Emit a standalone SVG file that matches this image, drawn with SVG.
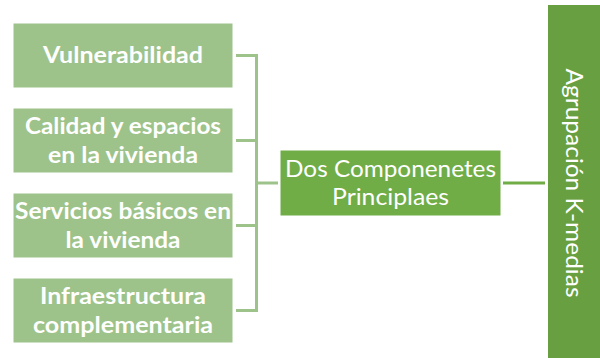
<svg xmlns="http://www.w3.org/2000/svg" width="600" height="358" viewBox="0 0 600 358">
<style>
.lb{fill:#9dc38a;stroke:#ffffff;stroke-width:1}
.lt{font-family:Lato,"Open Sans","Liberation Sans",sans-serif;font-weight:bold;font-size:23.5px;fill:#ffffff;text-anchor:middle}
.ct{font-family:Lato,"Open Sans","Liberation Sans",sans-serif;font-size:24px;fill:#ffffff;text-anchor:middle}
.cn{fill:none;stroke:#9dc38a;stroke-width:3}
</style>
<rect width="600" height="358" fill="#ffffff"/>
<g id="connectors">
<path class="cn" d="M236 55.5H257M236 140.5H257M236 225.5H257M236 310.5H257M256.5 54V312M257 183H278"/>
<path class="cn" d="M503 183H545" style="stroke:#70ad47"/>
</g>
<g id="n1"><rect class="lb" x="13" y="23" width="220" height="65"/><text class="lt" x="123" y="63" textLength="160" lengthAdjust="spacingAndGlyphs">Vulnerabilidad</text></g>
<g id="n2"><rect class="lb" x="13" y="108" width="220" height="65"/><text class="lt" x="123" y="134" textLength="196" lengthAdjust="spacingAndGlyphs">Calidad y espacios</text><text class="lt" x="123" y="163" textLength="150" lengthAdjust="spacingAndGlyphs">en la vivienda</text></g>
<g id="n3"><rect class="lb" x="13" y="193" width="220" height="65"/><text class="lt" x="123" y="219" textLength="216" lengthAdjust="spacingAndGlyphs">Servicios básicos en</text><text class="lt" x="123" y="248" textLength="115" lengthAdjust="spacingAndGlyphs">la vivienda</text></g>
<g id="n4"><rect class="lb" x="13" y="278" width="220" height="65"/><text class="lt" x="123" y="304" textLength="166" lengthAdjust="spacingAndGlyphs">Infraestructura</text><text class="lt" x="123" y="333" textLength="180" lengthAdjust="spacingAndGlyphs">complementaria</text></g>
<g id="center"><rect x="280" y="150" width="221" height="66" fill="#70ad47" stroke="#ffffff" stroke-width="1"/><text class="ct" x="390.5" y="177" textLength="211" lengthAdjust="spacingAndGlyphs">Dos Componenetes</text><text class="ct" x="390.5" y="205" textLength="117" lengthAdjust="spacingAndGlyphs">Principlaes</text></g>
<g id="kmedias"><rect x="548" y="5" width="52" height="353" fill="#68a041"/><text class="ct" transform="translate(566 183) rotate(90)" x="0" y="0" textLength="229" lengthAdjust="spacingAndGlyphs">Agrupación K-medias</text></g>
</svg>
